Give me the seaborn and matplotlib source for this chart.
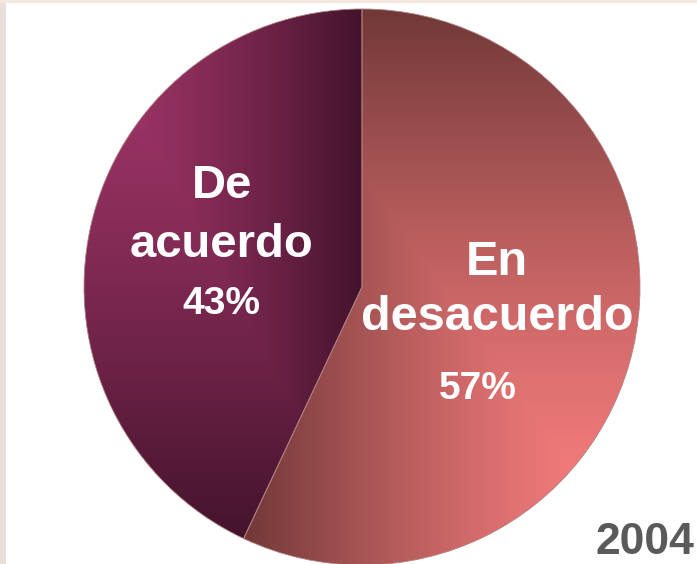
import numpy as np
import matplotlib
matplotlib.use("Agg")
import matplotlib.pyplot as plt
import seaborn as sns
from matplotlib.colors import LinearSegmentedColormap
from matplotlib.patches import Rectangle

# data
labels = ["En\ndesacuerdo", "De\nacuerdo"]
shares = [57, 43]
year = "2004"

# gradient colours per slice (light corner -> dark)
light_colors = ["#FC8080", "#A23669"]
dark_colors = ["#713838", "#43132C"]

sns.set_theme(style="white")
plt.rcParams['font.family'] = ['Liberation Sans', 'DejaVu Sans']

W, H = 697, 564
fig = plt.figure(figsize=(W / 100, H / 100), dpi=100)
fig.patch.set_facecolor("white")

# background strips on left and top edge
fig.patches.append(Rectangle((0, 0), 6 / W, 1, transform=fig.transFigure,
                             facecolor="#E8E0DB", edgecolor="none", zorder=0))
fig.patches.append(Rectangle((0, 1 - 3 / H), 1, 3 / H, transform=fig.transFigure,
                             facecolor="#F0E8E1", edgecolor="none", zorder=0))

cx, cy, r = 362, 287, 278
ax = fig.add_axes([(cx - r) / W, (H - cy - r) / H, 2 * r / W, 2 * r / H])
ax.set_xlim(-1, 1)
ax.set_ylim(-1, 1)
ax.set_aspect("equal")
ax.axis("off")

wedges, _ = ax.pie(shares, startangle=90, counterclock=False, radius=1,
                   wedgeprops=dict(linewidth=0.6, edgecolor="#B08080"))


def corner_gradient(ax, wedge, x0, x1, y0, y1, corner, c_light, c_dark):
    # rectangular "from corner" gradient clipped to the wedge
    n = 400
    xs = np.linspace(x0, x1, n)
    ys = np.linspace(y1, y0, n)
    X, Y = np.meshgrid(xs, ys)
    cxr, cyr = corner
    tx = np.abs(X - cxr) / (x1 - x0)
    ty = np.abs(Y - cyr) / (y1 - y0)
    t = np.maximum(tx, ty) ** 1.4
    cmap = LinearSegmentedColormap.from_list("g", [c_light, c_dark])
    im = ax.imshow(t, extent=[x0, x1, y0, y1], cmap=cmap, vmin=0, vmax=1,
                   interpolation="bilinear", zorder=1)
    im.set_clip_path(wedge)
    wedge.set_facecolor("none")
    wedge.set_zorder(2)


# bounding boxes of each slice from the wedge angles
for i, w in enumerate(wedges):
    th1, th2 = np.radians(w.theta1), np.radians(w.theta2)
    angs = np.linspace(th1, th2, 500)
    px = np.concatenate([[0], np.cos(angs)])
    py = np.concatenate([[0], np.sin(angs)])
    x0, x1, y0, y1 = px.min(), px.max(), py.min(), py.max()
    if i == 0:
        corner = (x1, y0)
    else:
        corner = (x0, y1)
    corner_gradient(ax, w, x0, x1, y0, y1, corner, light_colors[i], dark_colors[i])

ax.set_xlim(-1, 1)
ax.set_ylim(-1, 1)


def fx(px):
    return px / W


def fy(py):
    return 1 - py / H


# De acuerdo
fig.text(fx(222), fy(186), "De", color="white", fontsize=34, fontweight="bold",
         ha="center", va="center")
fig.text(fx(222), fy(245), "acuerdo", color="white", fontsize=34, fontweight="bold",
         ha="center", va="center")
fig.text(fx(221), fy(304), f"{shares[1]}%", color="white", fontsize=28, fontweight="bold",
         ha="center", va="center")
# En desacuerdo
fig.text(fx(497), fy(262), "En", color="white", fontsize=35, fontweight="bold",
         ha="center", va="center")
fig.text(fx(497), fy(318), "desacuerdo", color="white", fontsize=35, fontweight="bold",
         ha="center", va="center")
fig.text(fx(478), fy(389), f"{shares[0]}%", color="white", fontsize=28, fontweight="bold",
         ha="center", va="center")

fig.text(fx(694), fy(542), year, color="#5A5A5A", fontsize=32, fontweight="bold",
         ha="right", va="center")

fig.savefig("out.png", dpi=100)
